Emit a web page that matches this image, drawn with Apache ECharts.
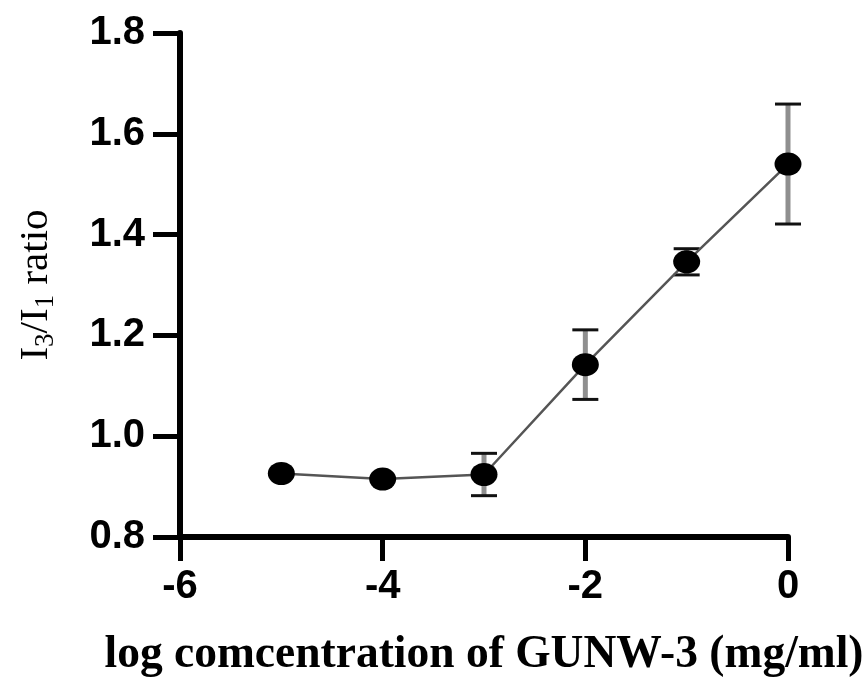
<!DOCTYPE html>
<html>
<head>
<meta charset="utf-8">
<script src="https://cdn.jsdelivr.net/npm/echarts@6/dist/echarts.min.js"></script>
<style>
  html, body { margin: 0; padding: 0; background: #fff; }
  #chart { width: 867px; height: 683px; }
</style>
</head>
<body>
<div id="chart"></div>
<script>
// log concentration (mg/ml) and the measured I3/I1 ratio
const logConc = [-5, -4, -3, -2, -1, 0];
const ratio = [0.926, 0.915, 0.924, 1.142, 1.346, 1.540];
// standard deviation of each ratio (0 = bar hidden behind the marker)
const sd = [0, 0, 0.042, 0.069, 0.026, 0.119];
const xTicks = [-6, -4, -2, 0];
const yTicks = [0.8, 1.0, 1.2, 1.4, 1.6, 1.8];

const points = logConc.map((x, i) => [x, ratio[i]]);
const bars = logConc.map((x, i) => [x, ratio[i] - sd[i], ratio[i] + sd[i]]);

const chart = echarts.init(document.getElementById('chart'), null, { renderer: 'canvas' });

const labelFont = {
  color: '#000',
  fontFamily: '"Liberation Sans", Arial, sans-serif',
  fontWeight: 'bold',
  fontSize: 40
};

chart.setOption({
  animation: false,
  backgroundColor: '#fff',
  grid: { left: 180, right: 79, top: 33, bottom: 135 },
  xAxis: {
    type: 'value',
    min: xTicks[0],
    max: xTicks[xTicks.length - 1],
    interval: xTicks[1] - xTicks[0],
    splitLine: { show: false },
    axisLine: { onZero: false, lineStyle: { color: '#000', width: 6 } },
    axisTick: { length: 24, lineStyle: { color: '#000', width: 5 } },
    axisLabel: Object.assign({ margin: 30 }, labelFont),
    name: 'log comcentration of GUNW-3 (mg/ml)',
    nameLocation: 'middle',
    nameGap: 95,
    nameTextStyle: {
      color: '#000',
      fontFamily: '"Liberation Serif", "Times New Roman", serif',
      fontWeight: 'bold',
      fontSize: 45.5
    }
  },
  yAxis: {
    type: 'value',
    min: yTicks[0],
    max: yTicks[yTicks.length - 1],
    interval: 0.2,
    splitLine: { show: false },
    axisLine: { onZero: false, lineStyle: { color: '#000', width: 6 } },
    axisTick: { length: 27, lineStyle: { color: '#000', width: 5 } },
    axisLabel: Object.assign({
      margin: 35,
      formatter: v => v.toFixed(1)
    }, labelFont),
    name: '{m|I}{s|3}{m|/I}{s|1}{m| ratio}',
    nameLocation: 'middle',
    nameGap: 121,
    nameTextStyle: {
      rich: {
        m: {
          color: '#000',
          fontFamily: '"Liberation Serif", "Times New Roman", serif',
          fontSize: 41,
          lineHeight: 46
        },
        s: {
          color: '#000',
          fontFamily: '"Liberation Serif", "Times New Roman", serif',
          fontSize: 27,
          lineHeight: 27,
          padding: [19, 0, 0, 0]
        }
      }
    }
  },
  series: [
    {
      // error bars: gray stem with black caps
      type: 'custom',
      z: 1,
      data: bars,
      renderItem: function (params, api) {
        const lo = api.value(1), hi = api.value(2);
        if (hi - lo <= 0) return null;
        const top = api.coord([api.value(0), hi]);
        const bot = api.coord([api.value(0), lo]);
        const half = 13;
        return {
          type: 'group',
          children: [
            { type: 'line', shape: { x1: top[0], y1: top[1], x2: bot[0], y2: bot[1] },
              style: { stroke: '#8f8f8f', lineWidth: 5 } },
            { type: 'line', shape: { x1: top[0] - half, y1: top[1], x2: top[0] + half, y2: top[1] },
              style: { stroke: '#111', lineWidth: 3 } },
            { type: 'line', shape: { x1: bot[0] - half, y1: bot[1], x2: bot[0] + half, y2: bot[1] },
              style: { stroke: '#111', lineWidth: 3 } }
          ]
        };
      }
    },
    {
      type: 'line',
      z: 3,
      data: points,
      symbol: 'circle',
      symbolSize: [27, 23],
      itemStyle: { color: '#000' },
      lineStyle: { color: '#555', width: 2.5 }
    }
  ]
});
</script>
</body>
</html>
